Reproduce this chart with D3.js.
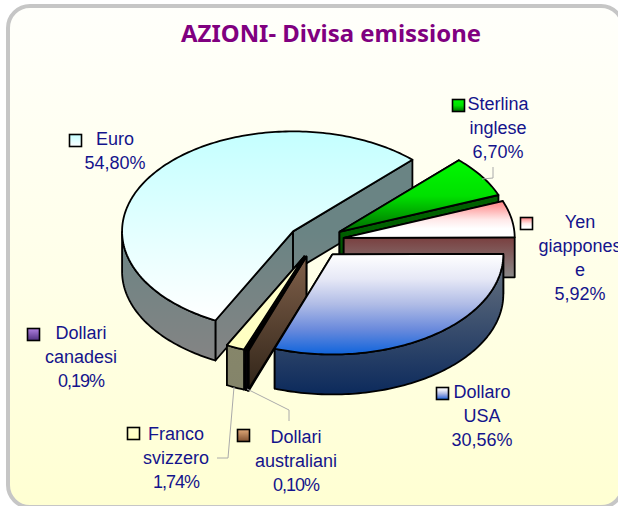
<!DOCTYPE html>
<html><head><meta charset="utf-8">
<script src="https://cdn.jsdelivr.net/npm/d3@7/dist/d3.min.js"></script>
<style>html,body{margin:0;padding:0;background:#fff;overflow:hidden}svg{display:block}text{font-family:"Liberation Sans",Arial,sans-serif}</style>
</head><body><svg id="c" width="618" height="506"></svg>
<script>
const titleText = "AZIONI- Divisa emissione";
const categories = ["Euro","Sterlina inglese","Yen giapponese","Dollaro USA","Dollari australiani","Dollari canadesi","Franco svizzero"];
const values = [54.80,6.70,5.92,30.56,0.10,0.19,1.74];
const valueLabels = ["54,80%","6,70%","5,92%","30,56%","0,10%","0,19%","1,74%"];
const labelLines = [["Euro"],["Sterlina","inglese"],["Yen","giappones","e"],["Dollaro","USA"],["Dollari","australiani"],["Dollari","canadesi"],["Franco","svizzero"]];
const topColors = [["#c4ffff","#ffffff"],["#00f800","#00e000","#006c00"],["#ff8080","#ffb4b4","#ffe8e8","#ffffff","#ffffff"],["#ffffff","#e6e8f6","#b0bce6","#6a8adc","#0f64dc"],["#e0a878","#805030"],["#b080e0","#503080"],["#ffffd0","#ffffc0"]];
const wallColors = [["#6a8484","#848484"],["#006000","#004000"],["#7a4040","#8a8a8a"],["#6a7480","#0c2a5c"],["#80604a","#302418"],["#503080","#301850"],["#8a8a6a","#84846a"]];
const drawOrder = [0,1,2,6,5,4,3];

const W=618,H=506,cx=316,cy=241,rx=171,ry=100,depth=40,explode=0.165;
const svg=d3.select("#c"), defs=svg.append("defs");
const bg=defs.append("linearGradient").attr("id","bg").attr("x1",0).attr("x2",0).attr("y1",0).attr("y2",1);
bg.append("stop").attr("offset",0).attr("stop-color","#fffffb");
bg.append("stop").attr("offset",0.55).attr("stop-color","#ffffe8");
bg.append("stop").attr("offset",1).attr("stop-color","#ffffd2");
svg.append("rect").attr("x",8).attr("y",6).attr("width",615).attr("height",501).attr("rx",22).attr("fill","url(#bg)").attr("stroke","#c6c6c6").attr("stroke-width",4);

svg.append("text").attr("x",181).attr("y",42).attr("textLength",300).attr("lengthAdjust","spacingAndGlyphs").attr("font-size",24).attr("font-weight","bold").attr("fill","#800080").style("font-family",'"Noto Sans"').text(titleText);

const X=d3.scaleLinear().domain([-1,1]).range([cx-rx,cx+rx]);
const Y=d3.scaleLinear().domain([-1,1]).range([cy-ry,cy+ry]);
const pie=d3.pie().sort(null).startAngle(207*Math.PI/180).endAngle((207+360)*Math.PI/180);
const arcs=pie(values);
const line=d3.line();

function grad(id,cols,y0,y1){
  const g=defs.append("linearGradient").attr("id",id).attr("gradientUnits","userSpaceOnUse").attr("x1",0).attr("x2",0).attr("y1",y0).attr("y2",y1);
  cols.forEach((c,i)=>g.append("stop").attr("offset",i/(cols.length-1)).attr("stop-color",c));
}
arcs.forEach((d,i)=>{
  const mid=(d.startAngle+d.endAngle)/2;
  const ex=Math.sin(mid)*explode, ey=-Math.cos(mid)*explode;
  const pt=a=>[X(ex+Math.sin(a)),Y(ey-Math.cos(a))];
  const apex=[X(ex),Y(ey)];
  const n=Math.max(2,Math.ceil((d.endAngle-d.startAngle)/0.02));
  const as=d3.range(n+1).map(k=>d.startAngle+(d.endAngle-d.startAngle)*k/n);
  const pts=as.map(pt);
  const ys=pts.map(p=>p[1]).concat(apex[1]);
  grad("t"+i,topColors[i],d3.min(ys),d3.max(ys));
  grad("w"+i,wallColors[i],apex[1],d3.max(ys)+depth);
  d.geo={apex,pts,as};
});
drawOrder.forEach(i=>{
  const {apex,pts,as}=arcs[i].geo;
  const g=svg.append("g").attr("stroke","#000").attr("stroke-width",1.8).attr("stroke-linejoin","round");
  const drop=p=>[p[0],p[1]+depth];
  const wall=[pts[0],pts[pts.length-1]].map(p=>[apex,p,drop(p),drop(apex),apex]);
  wall.forEach(q=>g.append("path").attr("d",line(q)).attr("fill",`url(#w${i})`));
  const front=pts.filter((p,k)=>Math.cos(as[k])<0);
  if(front.length>1){
    g.append("path").attr("d",line(front.concat(front.slice().reverse().map(drop)))+"Z").attr("fill",`url(#w${i})`);
  }
  g.append("path").attr("d",line([apex].concat(pts))+"Z").attr("fill",`url(#t${i})`);
});

const labelPos=[[115,145],[498,110],[580,228],[482,398],[296,443],[81,339],[176,440]];
const keyPos=[[69,134],[452,99],[520,217],[436,387],[237,429],[27,328],[127,427]];
const leaders=[[[493,167],[493,178],[482,179]],[[234,387],[228,458],[217,458]],[[247,389],[289,410],[289,421]]];
leaders.forEach(l=>svg.append("path").attr("d",line(l)).attr("fill","none").attr("stroke","#aaa").attr("stroke-width",1));
categories.forEach((c,i)=>{
  const kid="k"+i;
  const g=defs.append("linearGradient").attr("id",kid).attr("x1",0).attr("x2",0).attr("y1",0).attr("y2",1);
  topColors[i].forEach((col,k)=>g.append("stop").attr("offset",k/(topColors[i].length-1)).attr("stop-color",col));
  svg.append("rect").attr("x",keyPos[i][0]+.5).attr("y",keyPos[i][1]+.5).attr("width",12).attr("height",12).attr("fill",`url(#${kid})`).attr("stroke","#000").attr("stroke-width",1.6);
  const lines=labelLines[i].concat(valueLabels[i]);
  svg.append("g").selectAll("text").data(lines).join("text")
    .attr("x",labelPos[i][0]).attr("y",(l,k)=>labelPos[i][1]+k*24)
    .attr("text-anchor","middle").attr("font-size",18).attr("fill","#14148c")
    .style("letter-spacing",l=>/1/.test(l)?"-1px":null).text(l=>l);
});
</script></body></html>
